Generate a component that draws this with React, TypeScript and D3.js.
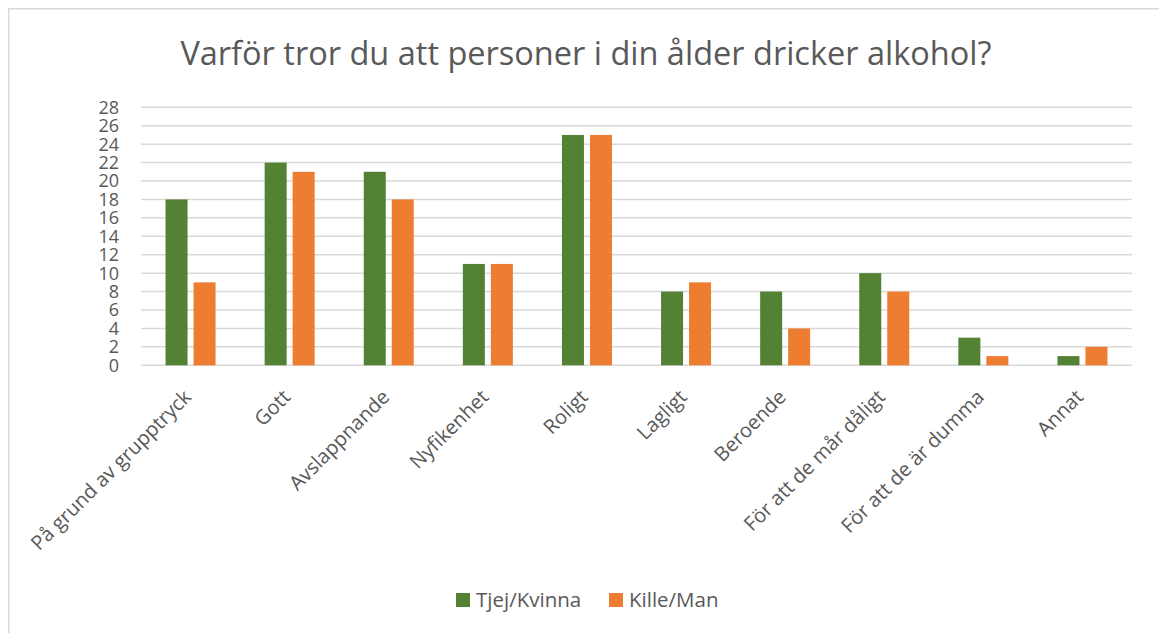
import React, { useEffect, useRef } from "react";
import * as d3 from "d3";

const categories = [
  "På grund av grupptryck",
  "Gott",
  "Avslappnande",
  "Nyfikenhet",
  "Roligt",
  "Lagligt",
  "Beroende",
  "För att de mår dåligt",
  "För att de är dumma",
  "Annat",
];
const seriesNames = ["Tjej/Kvinna", "Kille/Man"];
const tjejValues = [18, 22, 21, 11, 25, 8, 8, 10, 3, 1];
const killeValues = [9, 21, 18, 11, 25, 9, 4, 8, 1, 2];
const yTicks = [0, 2, 4, 6, 8, 10, 12, 14, 16, 18, 20, 22, 24, 26, 28];
const colors = ["#548235", "#ED7D31"];
const title = "Varför tror du att personer i din ålder dricker alkohol?";

const W = 1159;
const H = 633;
const FONT = "'Open Sans', Lato, sans-serif";
const TEXT = "#595959";

function App() {
  const ref = useRef<SVGSVGElement>(null);

  useEffect(() => {
    const svg = d3.select(ref.current);
    svg.selectAll("*").remove();

    const plot = { left: 141, right: 1132, top: 107.3, bottom: 365.3 };

    // chart border (runs off the picture on the right and bottom)
    svg.append("rect")
      .attr("x", 8.75).attr("y", 8.75)
      .attr("width", 1200).attr("height", 700)
      .attr("fill", "#fff")
      .attr("stroke", "#d9d9d9")
      .attr("stroke-width", 1.5);

    svg.append("text")
      .attr("x", 586).attr("y", 65)
      .attr("text-anchor", "middle")
      .attr("font-family", FONT)
      .attr("font-size", 32.5)
      .attr("fill", TEXT)
      .text(title);

    const x0 = d3.scaleBand<string>()
      .domain(categories)
      .range([plot.left, plot.right]);
    const x1 = d3.scaleBand<string>()
      .domain(seriesNames)
      .range([0, 50])
      .paddingInner(0.214);
    const y = d3.scaleLinear()
      .domain([0, 28])
      .range([plot.bottom, plot.top]);

    // gridlines
    svg.append("g")
      .selectAll("line")
      .data(yTicks)
      .join("line")
      .attr("x1", plot.left).attr("x2", plot.right)
      .attr("y1", d => y(d)).attr("y2", d => y(d))
      .attr("stroke", "#d9d9d9")
      .attr("stroke-width", 1.5);

    // y labels
    svg.append("g")
      .selectAll("text")
      .data(yTicks)
      .join("text")
      .attr("x", 119)
      .attr("y", d => y(d))
      .attr("dy", "0.36em")
      .attr("text-anchor", "end")
      .attr("font-family", FONT)
      .attr("font-size", 18)
      .attr("fill", TEXT)
      .text(d => d);

    const rows = categories.map((c, i) => ({ c, vals: [tjejValues[i], killeValues[i]] }));

    const groups = svg.append("g")
      .selectAll("g")
      .data(rows)
      .join("g")
      .attr("transform", d => `translate(${x0(d.c)! + x0.bandwidth() / 2 - 25},0)`);

    groups.selectAll("rect")
      .data(d => d.vals.map((v, k) => ({ v, k })))
      .join("rect")
      .attr("x", d => x1(seriesNames[d.k])!)
      .attr("width", x1.bandwidth())
      .attr("y", d => y(d.v))
      .attr("height", d => y(0) - y(d.v))
      .attr("fill", d => colors[d.k]);

    // category labels
    svg.append("g")
      .selectAll("text")
      .data(categories)
      .join("text")
      .attr("transform", d => `translate(${x0(d)! + x0.bandwidth() / 2 + 2},${plot.bottom + 33}) rotate(-45)`)
      .attr("text-anchor", "end")
      .attr("font-family", FONT)
      .attr("font-size", 20)
      .attr("fill", TEXT)
      .text(d => d);

    // legend
    const legendX = [456, 609];
    const legend = svg.append("g")
      .selectAll("g")
      .data(seriesNames)
      .join("g")
      .attr("transform", (d, i) => `translate(${legendX[i]},593)`);
    legend.append("rect")
      .attr("width", 14).attr("height", 14)
      .attr("fill", (d, i) => colors[i]);
    legend.append("text")
      .attr("x", 20).attr("y", 7)
      .attr("dy", "0.36em")
      .attr("font-family", FONT)
      .attr("font-size", 20.5)
      .attr("fill", TEXT)
      .text(d => d);
  }, []);

  return (
    <svg
      ref={ref}
      width={W}
      height={H}
      style={{ position: "absolute", left: 0, top: 0, background: "#fff" }}
    />
  );
}

export default App;
